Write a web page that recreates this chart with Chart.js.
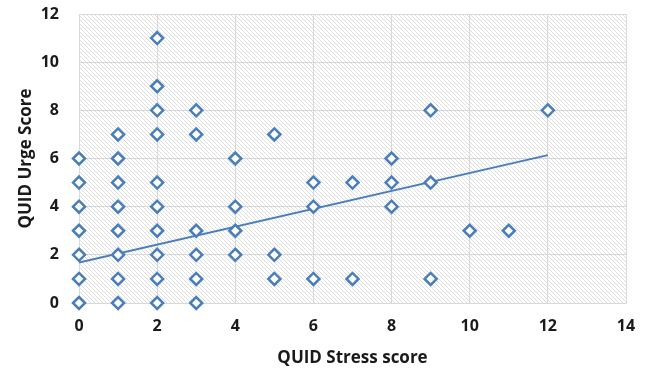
<!DOCTYPE html>
<html>
<head>
<meta charset="utf-8">
<script src="https://cdn.jsdelivr.net/npm/chart.js@4"></script>
<style>
  html, body { margin: 0; padding: 0; background: #fff; }
  #wrap { width: 645px; height: 372px; }
</style>
</head>
<body>
<div id="wrap"><canvas id="chartQuid"></canvas></div>
<script>
// puntos (stress, urge)
const stressScores = [0,0,0,0,0,0,0, 1,1,1,1,1,1,1,1, 2,2,2,2,2,2,2,2,2,2, 3,3,3,3,3,3, 4,4,4,4, 5,5,5, 6,6,6, 7,7, 8,8,8, 9,9,9, 10, 11, 12];
const urgeScores   = [0,1,2,3,4,5,6, 0,1,2,3,4,5,6,7, 0,1,2,3,4,5,7,8,9,11, 0,1,2,3,7,8, 2,3,4,6, 1,2,7, 1,4,5, 1,5, 4,5,6, 1,5,8, 3, 3, 8];

// linea de tendencia (extremos)
const trendX = [0, 12];
const trendY = [1.68, 6.14];

const xTicks = [0, 2, 4, 6, 8, 10, 12, 14];
const yTicks = [0, 2, 4, 6, 8, 10, 12];

const blue = '#4a7ebb';

// fondo rayado del area del grafico
function makeHatch() {
  const c = document.createElement('canvas');
  c.width = 4; c.height = 4;
  const g = c.getContext('2d');
  g.fillStyle = '#ffffff';
  g.fillRect(0, 0, 4, 4);
  g.strokeStyle = '#dedede';
  g.lineWidth = 1;
  g.beginPath();
  g.moveTo(0, 0); g.lineTo(4, 4);
  g.moveTo(-1, 3); g.lineTo(1, 5);
  g.moveTo(3, -1); g.lineTo(5, 1);
  g.stroke();
  return g.createPattern(c, 'repeat');
}

const hatchPlugin = {
  id: 'hatch',
  beforeDraw(chart) {
    const a = chart.chartArea;
    const ctx = chart.ctx;
    ctx.save();
    ctx.fillStyle = makeHatch();
    ctx.fillRect(a.left, a.top, a.right - a.left, a.bottom - a.top);
    ctx.restore();
  }
};

const tickFont = { family: 'Open Sans', size: 16, weight: 'bold' };
const titleFont = { family: 'Open Sans', size: 17, weight: 'bold' };

new Chart(document.getElementById('chartQuid').getContext('2d'), {
  type: 'scatter',
  data: {
    datasets: [{
      label: 'QUID',
      data: stressScores.map((s, i) => ({ x: s, y: urgeScores[i] })),
      pointStyle: 'rectRot',
      pointRadius: 6,
      pointBorderWidth: 2.5,
      pointBorderColor: blue,
      pointBackgroundColor: '#ffffff',
      clip: false,
      order: 1
    }, {
      type: 'line',
      label: 'Tendencia',
      data: trendX.map((x, i) => ({ x: x, y: trendY[i] })),
      borderColor: blue,
      borderWidth: 2,
      pointRadius: 0,
      fill: false,
      order: 2
    }]
  },
  options: {
    responsive: true,
    maintainAspectRatio: false,
    animation: false,
    layout: { padding: { top: 14, right: 19, left: 12, bottom: 0 } },
    plugins: { legend: { display: false }, tooltip: { enabled: false } },
    scales: {
      x: {
        type: 'linear', min: 0, max: 14,
        afterBuildTicks: axis => { axis.ticks = xTicks.map(v => ({ value: v })); },
        afterFit: axis => { axis.height = 69; axis.paddingLeft = 0; axis.paddingRight = 0; },
        grid: { color: '#d9d9d9', drawTicks: false },
        border: { color: '#d9d9d9' },
        ticks: { color: '#1a1a1a', font: tickFont, padding: 14 },
        title: { display: true, text: 'QUID Stress score', color: '#1a1a1a', font: titleFont, padding: { top: 8 } }
      },
      y: {
        type: 'linear', min: 0, max: 12,
        afterBuildTicks: axis => { axis.ticks = yTicks.map(v => ({ value: v })); },
        afterFit: axis => { axis.width = 67; axis.paddingTop = 0; axis.paddingBottom = 0; },
        grid: { color: '#d9d9d9', drawTicks: false },
        border: { color: '#d9d9d9' },
        ticks: { color: '#1a1a1a', font: tickFont, padding: 20 },
        title: { display: true, text: 'QUID Urge Score', color: '#1a1a1a', font: titleFont, padding: { bottom: 4 } }
      }
    }
  },
  plugins: [hatchPlugin]
});
</script>
</body>
</html>
